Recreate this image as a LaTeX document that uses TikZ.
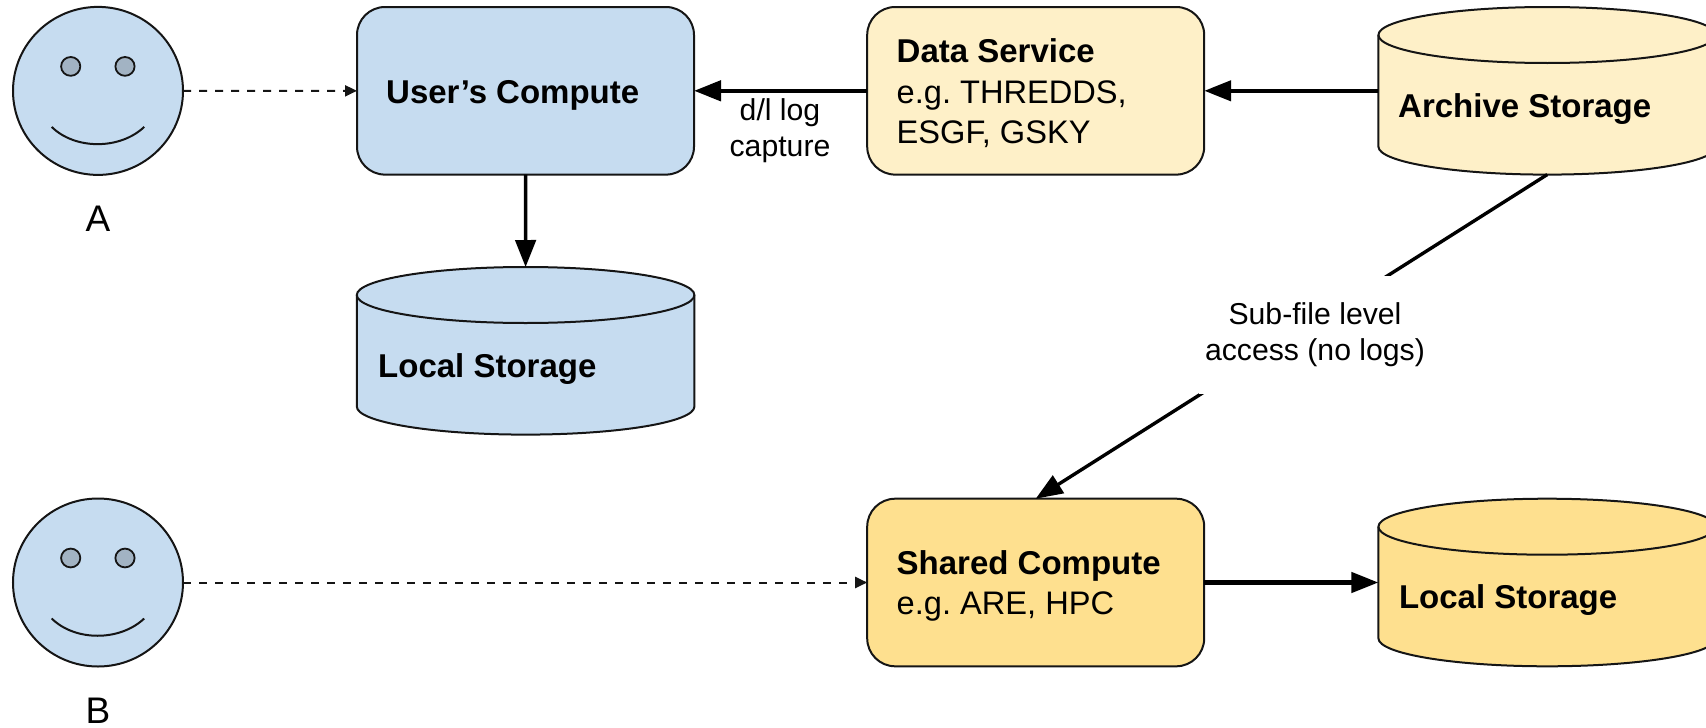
\documentclass[tikz,border=0pt]{standalone}
\usepackage{fontspec}
\setmainfont{Liberation Sans}
\usetikzlibrary{arrows.meta,shapes.geometric}
\definecolor{bluefill}{HTML}{C6DCF0}
\definecolor{paleyellow}{HTML}{FEF0C8}
\definecolor{deepyellow}{HTML}{FEE08F}
\definecolor{eyefill}{HTML}{A2B3C3}
\definecolor{ink}{HTML}{151515}
\tikzset{
  outline/.style={draw=ink,line width=2pt},
  roundbox/.style={outline,rounded corners=28pt,minimum width=337pt,minimum height=167.6pt,inner sep=0pt,outer sep=0pt,anchor=north west},
  cylframe/.style={inner sep=0pt,outer sep=0pt,minimum width=337.6pt,minimum height=167.6pt,anchor=north west},
  boldtext/.style={font=\fontsize{33}{36}\selectfont\bfseries,anchor=base west,inner sep=0pt},
  plaintext/.style={font=\fontsize{32.6}{36}\selectfont,anchor=base west,inner sep=0pt},
  labeltext/.style={font=\fontsize{30.2}{36}\selectfont,align=center,inner sep=0pt},
  persontext/.style={font=\fontsize{37}{40}\selectfont,anchor=base,inner sep=0pt},
  thickarrow/.style={draw=black,line width=4.5pt,-{Triangle[length=27pt,width=20pt]}},
  midarrow/.style={draw=black,line width=3.4pt,-{Triangle[length=27pt,width=20.5pt]}},
  dasharrow/.style={draw=ink,line width=2pt,dash pattern=on 8pt off 8pt,-{Triangle[length=12pt,width=11pt]}},
}
% cylinder: name, left x, top y, fill
\newcommand{\cylshape}[4]{%
  \node[cylframe] (#1) at (#2,#3) {};
  \path[outline,fill=#4] (#2,#3+28) -- (#2,#3+139.6)
    arc[x radius=168.8,y radius=28,start angle=180,end angle=0]
    -- (#2+337.6,#3+28)
    arc[x radius=168.8,y radius=28,start angle=0,end angle=-180] -- cycle;
  \path[outline] (#2,#3+28) arc[x radius=168.8,y radius=28,start angle=180,end angle=0];
}
% face: name, centre y
\newcommand{\faceshape}[2]{%
  \node[outline,fill=bluefill,ellipse,minimum width=170pt,minimum height=168pt,inner sep=0pt,outer sep=0pt] (#1) at (98,#2) {};
  \path[outline,fill=eyefill,line width=1.8pt] (70.7,#2-24.5) ellipse[x radius=9.6,y radius=9.4];
  \path[outline,fill=eyefill,line width=1.8pt] (125,#2-24.5) ellipse[x radius=9.6,y radius=9.4];
  \path[outline] (51.7,#2+36) .. controls (75,#2+59) and (120,#2+59) .. (144.2,#2+36);
}
\begin{document}
\begin{tikzpicture}[x=1pt,y=-1pt]
\useasboundingbox (0,0) rectangle (1706,728);
\clip (0,0) rectangle (1706,728);
\frenchspacing

\faceshape{faceA}{90.9}
\faceshape{faceB}{582.5}
\node[persontext] (labelA) at (98,231) {A};
\node[persontext] (labelB) at (98,723.5) {B};

\node[roundbox,fill=bluefill] (user) at (357,7) {};
\node[roundbox,fill=paleyellow] (dsvc) at (867.2,7) {};
\node[roundbox,fill=deepyellow] (shared) at (867.2,498.7) {};

\cylshape{localblue}{356.8}{267}{bluefill}
\cylshape{archive}{1378.4}{7}{paleyellow}
\cylshape{localyellow}{1378.4}{498.7}{deepyellow}

\node[boldtext] (tuser) at (386,103) {User’s Compute};
\node[boldtext] (tlocalblue) at (378,377) {Local Storage};
\node[boldtext] (tdsvc) at (896.5,62) {Data Service};
\node[plaintext] (tdsvca) at (896.5,103) {e.g. THREDDS,};
\node[plaintext] (tdsvcb) at (896.5,143.5) {ESGF, GSKY};
\node[boldtext] (tarchive) at (1398,117) {Archive Storage};
\node[boldtext] (tshared) at (896.5,574) {Shared Compute};
\node[plaintext] (tshareda) at (896.5,614.5) {e.g. ARE, HPC};
\node[boldtext] (tlocalyellow) at (1398.8,608.5) {Local Storage};

\draw[dasharrow] (faceA) -- (user);
\draw[dasharrow] (faceB) -- (shared);
\draw[thickarrow] (dsvc) -- (user);
\draw[thickarrow] (archive.west) -- (dsvc.east);
\draw[thickarrow] (shared) -- (localyellow.west);
\draw[midarrow] (user) -- (localblue.north);
\draw[midarrow] (archive.south) -- (shared.north);

\node[labeltext] (dl) at (780,130.5) {d/l log\\capture};
\node[labeltext,fill=white,minimum width=232pt,minimum height=118pt] (subfile) at (1315,334.5) {Sub-file level\\access (no logs)};
\end{tikzpicture}
\end{document}
